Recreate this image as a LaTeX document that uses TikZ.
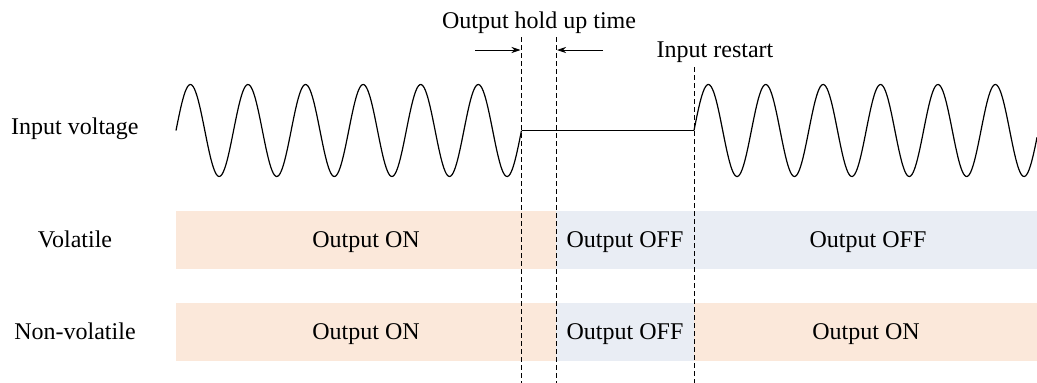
\documentclass[tikz,border=0pt]{standalone}
\usepackage{fontspec}
\setmainfont{Liberation Serif}
\usetikzlibrary{arrows.meta}
\definecolor{bandon}{HTML}{FBE8DA}
\definecolor{bandoff}{HTML}{E9EDF4}
\begin{document}
\begin{tikzpicture}[x=1pt,y=-1pt,
  lbl/.style={font=\fontsize{24}{28}\selectfont, inner sep=0pt, anchor=base},
  wave/.style={line width=1.2pt},
  guide/.style={line width=0.9pt, dash pattern=on 5pt off 3pt},
  onband/.style={fill=bandon, draw=none},
  offband/.style={fill=bandoff, draw=none},
  holdarrow/.style={line width=0.8pt, -{Stealth[length=9pt,width=6pt]}}]
\useasboundingbox (0,0) rectangle (1037,383);
% bands
\fill[onband] (176,211) rectangle (556,269);
\fill[offband] (556,211) rectangle (1037,269);
\fill[onband] (176,303) rectangle (556,361);
\fill[offband] (556,303) rectangle (694,361);
\fill[onband] (694,303) rectangle (1037,361);
% waves
\draw[wave] plot[domain=0:6, samples=300, smooth] ({176+57.58*\x},{130.5-46*sin(360*\x)});
\draw[wave] (521.5,130.5) -- (694,130.5);
\draw[wave] plot[domain=0:5.98, samples=300, smooth] ({694+57.4*\x},{130.5-46*sin(360*\x)});
% guides
\coordinate (g1t) at (521.5,37); \coordinate (g1b) at (521.5,383);
\coordinate (g2t) at (556,37); \coordinate (g2b) at (556,383);
\coordinate (g3t) at (694,67); \coordinate (g3b) at (694,383);
\draw[guide] (g1t) -- (g1b);
\draw[guide] (g2t) -- (g2b);
\draw[guide] (g3t) -- (g3b);
% hold arrows
\coordinate (a1s) at (475,50); \coordinate (a1e) at (520.5,50);
\coordinate (a2s) at (603,50); \coordinate (a2e) at (557,50);
\draw[holdarrow] (a1s) -- (a1e);
\draw[holdarrow] (a2s) -- (a2e);
% labels
\node[lbl] (hold) at (539,28.5) {Output hold up time};
\node[lbl] (restart) at (715,57.5) {Input restart};
\node[lbl, anchor=base west] (vin) at (11,134.5) {Input voltage};
\node[lbl] (vol) at (75,247) {Volatile};
\node[lbl] (nvol) at (75,339.5) {Non-volatile};
\node[lbl] (v1) at (366,247.5) {Output ON};
\node[lbl] (v2) at (625,247.5) {Output OFF};
\node[lbl] (v3) at (868,247.5) {Output OFF};
\node[lbl] (n1) at (366,339.5) {Output ON};
\node[lbl] (n2) at (625,339.5) {Output OFF};
\node[lbl] (n3) at (866,339.5) {Output ON};
\end{tikzpicture}
\end{document}
